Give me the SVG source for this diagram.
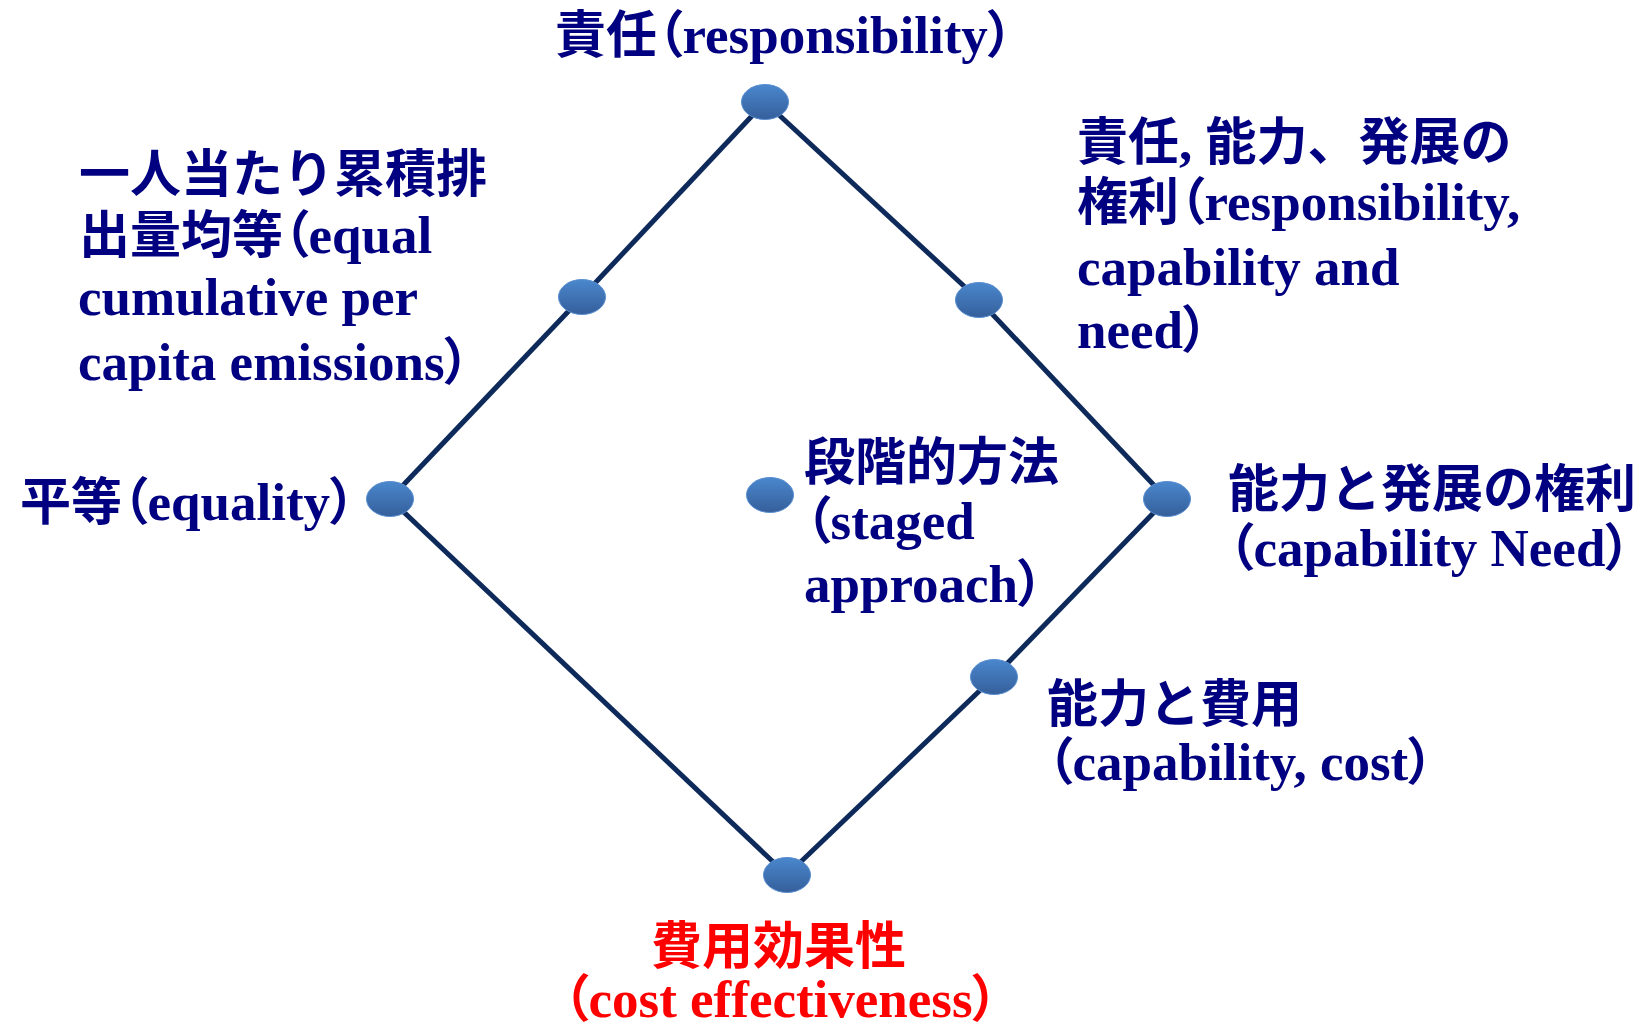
<svg xmlns="http://www.w3.org/2000/svg" width="1650" height="1027" viewBox="0 0 1650 1027">
<defs>
<linearGradient id="ng" x1="0" y1="0" x2="0" y2="1">
<stop offset="0" stop-color="#4a87cd"/>
<stop offset="1" stop-color="#355f9b"/>
</linearGradient>
<style>
.t { font-family: "Liberation Serif", "Noto Sans CJK JP", serif; font-weight: bold; font-size: 53px; fill: #000080; }
.j { font-size: 51px; }
.red { fill: #ff0000; }
.p { font-feature-settings: "palt"; font-size: 51px; }
.edge { stroke: #0d2a5a; stroke-width: 5; fill: none; }
.dot { fill: url(#ng); stroke: #5a8fd2; stroke-width: 1; }
</style>
</defs>
<rect width="1650" height="1027" fill="#ffffff"/>
<g id="connectors">
<line class="edge" x1="765" y1="102" x2="582" y2="297"/>
<line class="edge" x1="582" y1="297" x2="390" y2="499"/>
<line class="edge" x1="390" y1="499" x2="787" y2="875"/>
<line class="edge" x1="787" y1="875" x2="994" y2="677"/>
<line class="edge" x1="994" y1="677" x2="1167" y2="499"/>
<line class="edge" x1="1167" y1="499" x2="979" y2="300"/>
<line class="edge" x1="979" y1="300" x2="765" y2="102"/>
</g>
<g id="node-responsibility">
<ellipse class="dot" cx="765" cy="102" rx="23.5" ry="17.5"/>
<text class="t" x="555" y="53"><tspan class="j">責任</tspan><tspan class="p">（</tspan>responsibility<tspan class="p">）</tspan></text>
</g>
<g id="node-equal-cumulative">
<ellipse class="dot" cx="582" cy="297" rx="23.5" ry="17.5"/>
<text class="t j" x="79" y="192">一人当たり累積排</text>
<text class="t" x="79" y="253"><tspan class="j">出量均等</tspan><tspan class="p">（</tspan>equal</text>
<text class="t" x="78" y="315">cumulative per</text>
<text class="t" x="78" y="380">capita emissions<tspan class="p">）</tspan></text>
</g>
<g id="node-equality">
<ellipse class="dot" cx="390" cy="499" rx="23.5" ry="17.5"/>
<text class="t" x="20" y="520"><tspan class="j">平等</tspan><tspan class="p">（</tspan>equality<tspan class="p">）</tspan></text>
</g>
<g id="node-cost-effectiveness">
<ellipse class="dot" cx="787" cy="875" rx="23.5" ry="17.5"/>
<text class="t j red" x="651" y="964">費用効果性</text>
<text class="t red" x="563" y="1017"><tspan class="p">（</tspan>cost effectiveness<tspan class="p">）</tspan></text>
</g>
<g id="node-capability-cost">
<ellipse class="dot" cx="994" cy="677" rx="23.5" ry="17.5"/>
<text class="t j" x="1047" y="722">能力と費用</text>
<text class="t" x="1047" y="780"><tspan class="p">（</tspan>capability, cost<tspan class="p">）</tspan></text>
</g>
<g id="node-capability-need">
<ellipse class="dot" cx="1167" cy="499" rx="23.5" ry="17.5"/>
<text class="t j" x="1228" y="507">能力と発展の権利</text>
<text class="t" x="1228" y="566"><tspan class="p">（</tspan>capability Need<tspan class="p">）</tspan></text>
</g>
<g id="node-responsibility-capability-need">
<ellipse class="dot" cx="979" cy="300" rx="23.5" ry="17.5"/>
<text class="t" x="1077" y="160"><tspan class="j">責任</tspan>, <tspan class="j">能力、発展の</tspan></text>
<text class="t" x="1077" y="220"><tspan class="j">権利</tspan><tspan class="p">（</tspan>responsibility,</text>
<text class="t" x="1077" y="285">capability and</text>
<text class="t" x="1077" y="348">need<tspan class="p">）</tspan></text>
</g>
<g id="node-staged-approach">
<ellipse class="dot" cx="770" cy="495" rx="23.5" ry="17.5"/>
<text class="t j" x="804" y="480">段階的方法</text>
<text class="t" x="805" y="539"><tspan class="p">（</tspan>staged</text>
<text class="t" x="804" y="602">approach<tspan class="p">）</tspan></text>
</g>
</svg>
